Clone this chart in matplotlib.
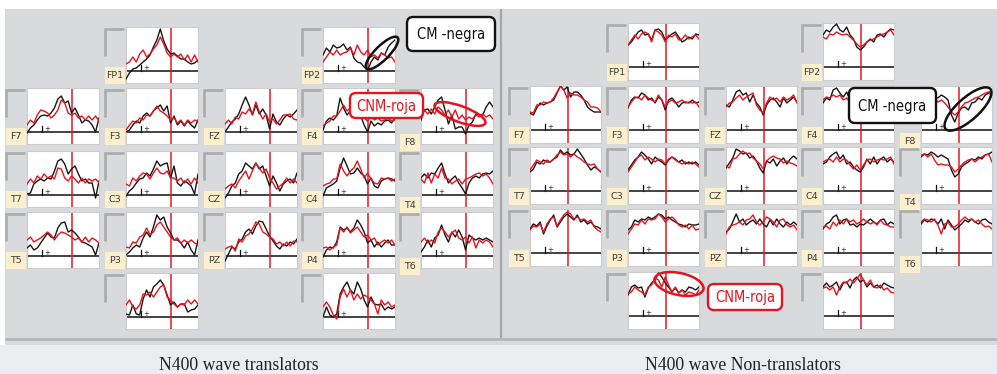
import numpy as np
import matplotlib
matplotlib.use("Agg")
import matplotlib.pyplot as plt
from matplotlib.patches import Rectangle, FancyBboxPatch, Ellipse
from matplotlib import font_manager

# ---------------------------------------------------------------------------
# Grand-average ERP traces (amplitude, arbitrary units above baseline),
# 22 samples spanning each epoch.  CM = black trace, CNM = red trace.
# ---------------------------------------------------------------------------
electrodes = ["FP1", "FP2", "F7", "F3", "FZ", "F4", "F8", "T7", "C3", "CZ",
              "C4", "T4", "T5", "P3", "PZ", "P4", "T6", "O1", "O2"]

translators_cm = {
    "FP1": [-8, -2, 2, 3, 6, 9, 12, 16, 24, 31, 42, 30, 22, 17, 18, 15, 12, 12, 9, 7, 8, 11],
    "F7": [-1, 4, 7, 12, 16, 17, 16, 19, 24, 33, 36, 29, 31, 19, 24, 17, 9, 12, 11, 7, 0, 14],
    "F3": [0, 2, 7, 11, 9, 16, 19, 16, 21, 24, 27, 21, 26, 9, 16, 7, 11, 6, 11, 7, 4, 12],
    "FZ": [0, 5, 10, 13, 18, 27, 35, 27, 17, 27, 18, 23, 17, 3, 18, 10, 7, 13, 17, 15, 18, 22],
    "F4": [2, 11, 14, 12, 16, 34, 24, 17, 21, 24, 17, 16, 7, 0, 11, 6, 9, 7, 11, 12, 9, 14],
    "F8": [12, 22, 23, 18, 25, 32, 35, 22, 8, 17, 3, 5, 5, -2, 7, 10, 18, 17, 17, 25, 30, 25],
    "FP2": [16, 23, 19, 26, 23, 24, 27, 21, 24, 13, 9, 8, 4, 1, 9, 14, 11, 18, 16, 24, 28, 31],
    "T7": [1, 2, 11, 14, 16, 14, 17, 16, 24, 34, 36, 31, 21, 26, 29, 21, 14, 16, 12, 12, -3, 14],
    "C3": [-1, 4, 7, 12, 16, 17, 22, 19, 26, 34, 29, 31, 32, 17, 29, 12, 9, 14, 12, 9, 1, 21],
    "CZ": [-3, 2, 9, 12, 21, 24, 32, 29, 26, 32, 26, 29, 19, 9, 19, 12, 4, 11, 14, 16, 12, 22],
    "C4": [-1, 7, 9, 11, 14, 27, 37, 29, 21, 22, 27, 22, 19, 11, 17, 9, 7, 14, 16, 17, 16, 14],
    "T4": [17, 21, 17, 22, 21, 27, 32, 21, 12, 16, 19, 12, 7, 1, 12, 17, 19, 17, 21, 22, 21, 24],
    "T5": [8, 11, 6, 8, 13, 18, 23, 19, 18, 28, 33, 34, 24, 26, 23, 19, 14, 13, 11, 9, 1, 13],
    "P3": [1, 4, 8, 11, 9, 18, 24, 19, 29, 41, 36, 39, 29, 23, 16, 16, 13, 8, 14, 6, 1, 16],
    "PZ": [-5, 2, 9, 7, 14, 17, 24, 27, 22, 30, 35, 34, 27, 20, 15, 10, 7, 12, 10, 14, 12, 17],
    "P4": [-1, 6, 9, 8, 14, 29, 26, 28, 24, 28, 36, 31, 24, 13, 16, 9, 14, 9, 13, 16, 11, 11],
    "T6": [4, 9, 16, 9, 18, 21, 31, 21, 14, 24, 19, 26, 19, 6, 21, 18, 16, 18, 16, 18, 16, 14],
    "O1": [3, 2, 12, 3, 2, 18, 27, 20, 30, 33, 37, 32, 22, 12, 15, 10, 13, 13, 5, 7, 8, 12],
    "O2": [0, 10, 2, 0, 3, 23, 30, 35, 27, 23, 35, 28, 17, 10, 20, 13, 12, 13, 7, 10, 8, 10],
}

translators_cnm = {
    "FP1": [7, 9, 14, 9, 17, 21, 14, 17, 22, 26, 34, 27, 18, 14, 17, 14, 17, 11, 16, 9, 16, 9],
    "F7": [7, 12, 9, 17, 22, 21, 19, 14, 17, 22, 32, 29, 19, 17, 19, 14, 16, 12, 16, 12, 16, 11],
    "F3": [2, 7, 11, 9, 14, 12, 17, 16, 21, 26, 21, 19, 16, 12, 14, 9, 12, 7, 12, 9, 12, 11],
    "FZ": [8, 12, 8, 15, 13, 20, 18, 23, 18, 30, 20, 13, 18, 10, 13, 8, 12, 17, 17, 18, 13, 12],
    "F4": [6, 9, 11, 16, 16, 21, 27, 21, 24, 21, 17, 16, 14, 11, 16, 12, 14, 11, 12, 14, 11, 12],
    "F8": [25, 22, 18, 23, 18, 25, 22, 17, 22, 15, 22, 13, 17, 12, 15, 13, 17, 15, 18, 15, 17, 13],
    "FP2": [9, 14, 19, 16, 21, 16, 18, 19, 23, 16, 26, 19, 16, 21, 14, 16, 13, 18, 16, 13, 14, 9],
    "T7": [11, 16, 12, 19, 16, 21, 17, 19, 16, 27, 26, 17, 14, 19, 16, 12, 17, 12, 16, 14, 16, 12],
    "C3": [11, 9, 17, 14, 19, 22, 21, 16, 22, 27, 22, 21, 24, 17, 17, 14, 17, 12, 16, 11, 17, 12],
    "CZ": [6, 9, 11, 7, 14, 19, 24, 16, 24, 32, 27, 22, 26, 17, 12, 6, 9, 12, 17, 12, 16, 12],
    "C4": [9, 11, 12, 16, 16, 31, 24, 19, 24, 27, 34, 26, 17, 22, 16, 12, 11, 17, 16, 17, 14, 16],
    "T4": [16, 12, 22, 12, 21, 17, 27, 17, 16, 11, 14, 16, 11, 16, 17, 19, 21, 22, 19, 21, 17, 11],
    "T5": [16, 19, 14, 16, 18, 21, 24, 21, 16, 21, 24, 23, 21, 19, 16, 18, 14, 19, 14, 18, 16, 13],
    "P3": [9, 8, 14, 13, 19, 21, 28, 21, 24, 31, 34, 29, 24, 19, 16, 18, 13, 16, 13, 16, 13, 11],
    "PZ": [7, 9, 10, 5, 17, 14, 20, 22, 27, 34, 32, 24, 22, 19, 17, 12, 14, 10, 14, 10, 15, 14],
    "P4": [8, 9, 6, 9, 11, 28, 24, 29, 23, 26, 29, 24, 19, 21, 16, 18, 11, 14, 16, 13, 16, 11],
    "T6": [14, 18, 13, 16, 13, 24, 28, 24, 19, 23, 26, 18, 16, 19, 13, 19, 8, 16, 13, 16, 14, 9],
    "O1": [12, 17, 10, 8, 12, 23, 22, 25, 20, 25, 30, 32, 20, 17, 13, 10, 13, 12, 17, 13, 17, 13],
    "O2": [10, 15, 10, 2, -2, 20, 28, 20, 27, 17, 23, 18, 22, 20, 17, 13, 3, 17, 12, 15, 10, 12],
}

nontranslators_cm = {
    "FP1": [22, 25, 30, 35, 37, 32, 33, 27, 37, 38, 35, 27, 30, 33, 35, 30, 25, 27, 30, 28, 33, 32],
    "F7": [17, 15, 22, 27, 25, 27, 28, 30, 37, 44, 40, 43, 33, 38, 38, 35, 30, 23, 20, 18, 18, 18],
    "F3": [22, 30, 33, 32, 37, 35, 30, 32, 27, 33, 30, 20, 30, 32, 28, 23, 27, 28, 27, 30, 27, 28],
    "FZ": [25, 23, 30, 38, 40, 35, 37, 28, 35, 27, 23, 15, 25, 30, 32, 28, 23, 32, 27, 30, 33, 28],
    "F4": [27, 32, 30, 40, 42, 37, 33, 38, 30, 33, 23, 17, 20, 27, 28, 30, 32, 28, 30, 32, 30, 33],
    "F8": [35, 38, 35, 37, 33, 32, 35, 33, 30, 15, 8, 17, 22, 23, 20, 27, 28, 32, 30, 35, 37, 40],
    "FP2": [32, 37, 35, 40, 43, 37, 35, 40, 32, 28, 20, 17, 20, 25, 28, 25, 32, 33, 30, 35, 38, 37],
    "T7": [19, 22, 29, 27, 31, 29, 29, 32, 34, 41, 37, 39, 36, 37, 42, 37, 32, 26, 21, 24, 22, 19],
    "C3": [21, 26, 31, 34, 39, 36, 32, 27, 34, 31, 29, 26, 31, 34, 32, 29, 31, 27, 29, 27, 29, 26],
    "CZ": [23, 28, 33, 42, 40, 37, 38, 33, 35, 30, 23, 18, 30, 28, 32, 25, 30, 33, 27, 32, 35, 32],
    "C4": [27, 29, 34, 37, 39, 32, 36, 27, 29, 24, 21, 19, 24, 32, 27, 34, 27, 32, 34, 29, 32, 29],
    "T4": [34, 37, 36, 39, 37, 34, 36, 34, 32, 21, 14, 17, 24, 27, 29, 32, 31, 34, 32, 36, 37, 39],
    "T5": [24, 29, 27, 31, 19, 27, 33, 38, 26, 31, 36, 39, 36, 33, 38, 31, 33, 29, 31, 27, 26, 24],
    "P3": [23, 26, 33, 31, 34, 33, 36, 34, 36, 39, 38, 34, 36, 33, 31, 29, 28, 26, 29, 28, 28, 29],
    "PZ": [21, 24, 31, 39, 31, 34, 28, 31, 33, 29, 34, 29, 26, 33, 28, 34, 29, 26, 31, 28, 31, 28],
    "P4": [24, 29, 31, 36, 38, 29, 33, 34, 28, 29, 26, 29, 28, 31, 34, 31, 29, 33, 34, 28, 31, 29],
    "T6": [29, 33, 31, 34, 33, 29, 34, 24, 33, 28, 23, 26, 29, 33, 31, 34, 31, 29, 33, 34, 31, 29],
    "O1": [21, 29, 31, 28, 29, 19, 28, 33, 36, 43, 39, 33, 29, 24, 28, 23, 26, 24, 29, 28, 26, 29],
    "O2": [29, 33, 29, 31, 34, 26, 33, 34, 28, 36, 39, 34, 36, 29, 33, 29, 31, 28, 33, 31, 29, 28],
}

nontranslators_cnm = {
    "FP1": [22, 27, 32, 28, 33, 35, 33, 25, 37, 35, 32, 25, 32, 30, 33, 27, 28, 32, 28, 30, 32, 28],
    "F7": [18, 17, 25, 25, 28, 27, 28, 32, 38, 44, 40, 32, 37, 35, 35, 33, 30, 28, 23, 23, 22, 18],
    "F3": [23, 28, 32, 33, 30, 35, 32, 30, 28, 35, 30, 23, 28, 30, 27, 28, 30, 27, 28, 27, 28, 23],
    "FZ": [23, 27, 28, 32, 35, 30, 33, 35, 37, 25, 20, 17, 27, 33, 30, 32, 28, 33, 30, 32, 35, 27],
    "F4": [30, 33, 32, 35, 33, 35, 30, 32, 28, 30, 25, 20, 23, 30, 32, 28, 30, 32, 28, 30, 32, 28],
    "F8": [38, 35, 37, 35, 32, 28, 30, 27, 23, 18, 15, 18, 23, 27, 28, 30, 32, 33, 35, 37, 38, 33],
    "FP2": [30, 28, 33, 32, 35, 33, 32, 33, 30, 27, 23, 20, 22, 25, 27, 28, 30, 32, 33, 35, 37, 32],
    "T7": [21, 26, 31, 29, 27, 31, 29, 32, 36, 39, 36, 37, 34, 37, 34, 32, 29, 27, 26, 27, 22, 19],
    "C3": [19, 24, 29, 34, 36, 31, 34, 32, 29, 32, 31, 27, 32, 34, 31, 29, 27, 29, 27, 29, 27, 24],
    "CZ": [25, 23, 32, 33, 37, 40, 37, 38, 33, 30, 27, 22, 30, 33, 35, 33, 32, 28, 30, 28, 27, 25],
    "C4": [29, 31, 32, 29, 34, 29, 32, 31, 26, 22, 26, 21, 26, 31, 32, 29, 31, 32, 31, 32, 34, 27],
    "T4": [36, 37, 34, 37, 31, 26, 27, 26, 26, 24, 19, 22, 26, 29, 31, 32, 29, 32, 34, 36, 37, 29],
    "T5": [23, 27, 26, 29, 21, 29, 34, 36, 27, 33, 38, 41, 39, 34, 36, 33, 34, 31, 33, 26, 23, 21],
    "P3": [19, 24, 29, 28, 33, 29, 34, 33, 34, 39, 36, 31, 34, 36, 33, 28, 26, 28, 24, 28, 23, 24],
    "PZ": [19, 26, 28, 29, 31, 28, 33, 34, 38, 31, 28, 31, 36, 34, 31, 26, 33, 34, 28, 26, 28, 23],
    "P4": [26, 27, 24, 31, 27, 33, 29, 34, 31, 33, 29, 31, 34, 31, 29, 31, 28, 33, 29, 28, 26, 26],
    "T6": [31, 34, 33, 31, 34, 28, 19, 29, 31, 26, 26, 29, 33, 36, 33, 34, 31, 33, 29, 26, 27, 24],
    "O1": [23, 24, 29, 26, 24, 21, 29, 31, 38, 36, 29, 39, 31, 24, 29, 23, 26, 21, 24, 23, 21, 26],
    "O2": [28, 29, 26, 29, 21, 29, 34, 33, 37, 33, 37, 42, 36, 31, 36, 29, 28, 31, 26, 28, 24, 23],
}

panel_titles = ["N400 wave translators", "N400 wave Non-translators"]
legend_cm = "CM -negra"
legend_cnm = "CNM-roja"
n400_latency = 400  # ms

# ---------------------------------------------------------------------------
# Layout (pixels)
# ---------------------------------------------------------------------------
W, H = 997, 374
fig = plt.figure(figsize=(W / 100, H / 100), dpi=100)
fig.patch.set_facecolor("white")

BLACK = "#161616"
RED = "#e5141f"
GRID_GREY = "#ababab"
LABEL_BG = "#fcefcd"

# a narrow sans for the legend tags, if one is installed
_installed = {f.name for f in font_manager.fontManager.ttflist}
TAG_FAMILY = "Liberation Sans Narrow" if "Liberation Sans Narrow" in _installed else "DejaVu Sans"
TAG_STRETCH = "normal" if TAG_FAMILY == "Liberation Sans Narrow" else "condensed"


def px_axes(x, y, w, h, z):
    return fig.add_axes([x / W, 1 - (y + h) / H, w / W, h / H], zorder=z)


bg = px_axes(0, 0, W, H, 0)
bg.set_xlim(0, W)
bg.set_ylim(H, 0)
bg.axis("off")

ov = px_axes(0, 0, W, H, 30)
ov.set_xlim(0, W)
ov.set_ylim(H, 0)
ov.axis("off")
ov.patch.set_alpha(0)

# background bands
bg.add_patch(Rectangle((5, 9), W - 5, 336, color="#d9dadb", lw=0))
bg.add_patch(Rectangle((0, 345), W, H - 345, color="#ecedee", lw=0))
bg.plot([5, W], [338.5, 338.5], color="#b3b4b5", lw=2, solid_capstyle="butt")
bg.plot([500.5, 500.5], [9, 338], color="#a5a6a7", lw=1.6, solid_capstyle="butt")

grid_pos = {
    "FP1": (1, 0), "FP2": (3, 0),
    "F7": (0, 1), "F3": (1, 1), "FZ": (2, 1), "F4": (3, 1), "F8": (4, 1),
    "T7": (0, 2), "C3": (1, 2), "CZ": (2, 2), "C4": (3, 2), "T4": (4, 2),
    "T5": (0, 3), "P3": (1, 3), "PZ": (2, 3), "P4": (3, 3), "T6": (4, 3),
    "O1": (1, 4), "O2": (3, 4),
}

panels = [
    dict(cm=translators_cm, cnm=translators_cnm,
         cols=[27, 126, 225, 323, 421], rows=[27, 88, 151, 212, 273],
         w=72, h=56, below=12, epoch=(-200, 750), title_x=239),
    dict(cm=nontranslators_cm, cnm=nontranslators_cnm,
         cols=[530, 628, 726, 823, 921], rows=[23, 86, 147, 209, 272],
         w=71, h=57, below=13, epoch=(-250, 950), title_x=743),
]

for title, p in zip(panel_titles, panels):
    w, h, below = p["w"], p["h"], p["below"]
    for name in electrodes:
        c, r = grid_pos[name]
        bx, by = p["cols"][c], p["rows"][r]

        # corner bracket
        bg.plot([bx - 21, bx - 21, bx - 2], [by + 29, by + 1.5, by + 1.5],
                color=GRID_GREY, lw=1.9, solid_capstyle="butt",
                solid_joinstyle="miter")
        # electrode label
        if r < 4:
            ly = by + h - 16 + (6 if c == 4 else 0)
            bg.add_patch(Rectangle((bx - 21, ly), 20, 17, color=LABEL_BG, lw=0))
            bg.text(bx - 11, ly + 8.8, name, ha="center", va="center",
                    fontsize=6.8, color="#3c3c3c", family="DejaVu Sans")

        ax = px_axes(bx, by, w, h, 5)
        ax.set_facecolor("white")
        for s in ax.spines.values():
            s.set_color("#cdcdcd")
            s.set_linewidth(0.8)
        ax.set_xticks([])
        ax.set_yticks([])
        t0, t1 = p["epoch"]
        ax.set_xlim(t0, t1)
        ax.set_ylim(-below, h - below)

        ax.axhline(0, color="#222222", lw=1.2, zorder=2)
        ax.axvline(n400_latency, color=RED, lw=1.2, alpha=0.9, zorder=2)
        ax.plot([0, 0], [0, 6], color="#111111", lw=0.9, zorder=2)
        ax.annotate("+", (0, 3), xytext=(1.5, 0), textcoords="offset points",
                    fontsize=5, va="center", ha="left", color="#222222")

        cm = p["cm"][name]
        cnm = p["cnm"][name]
        ax.plot(np.linspace(t0, t1, len(cm)), cm, color=BLACK, lw=1.0, zorder=3)
        ax.plot(np.linspace(t0, t1, len(cnm)), cnm, color=RED, lw=1.0, zorder=3)

    bg.text(p["title_x"], 370.5, title, ha="center", va="baseline",
            fontsize=12.8, family="Liberation Serif", color="#222222")


# legend tags and highlight ellipses
def tag(x, y, w, h, text, color):
    ov.add_patch(FancyBboxPatch((x, y), w, h,
                                boxstyle="round,pad=0,rounding_size=6",
                                ec=color, fc="white", lw=1.7))
    ov.text(x + w / 2, y + h / 2 + 0.5, text, ha="center", va="center",
            color=color, fontsize=10.5, family=TAG_FAMILY,
            fontstretch=TAG_STRETCH)


def ring(cx, cy, major, minor, angle, color):
    ov.add_patch(Ellipse((cx, cy), major, minor, angle=-angle, fill=False,
                         ec=color, lw=1.8))


tag(407, 17, 88, 34, legend_cm, "#111111")
tag(350, 93, 73, 25, legend_cnm, RED)
ring(382, 53, 44, 14, 45, "#111111")
ring(460, 114, 54, 16, -20, RED)

tag(849, 88, 87, 35, legend_cm, "#111111")
tag(708, 284, 74, 26, legend_cnm, RED)
ring(968, 109, 60, 22, 42, "#111111")
ring(679, 284, 50, 22, -12, RED)

fig.savefig("out.png", dpi=100)
